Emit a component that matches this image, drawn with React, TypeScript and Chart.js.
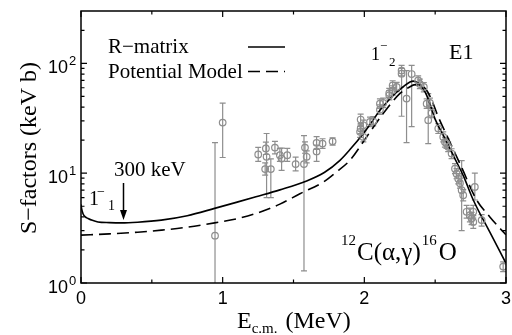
import React, { useEffect, useRef } from 'react';
import { Chart, registerables } from 'chart.js';

Chart.register(...registerables);

// R-matrix curve (solid)
const rMatrixX = [0, 0.005, 0.015, 0.03, 0.05, 0.08, 0.12, 0.2, 0.285, 0.4, 0.567, 0.75, 0.943, 1.108, 1.235, 1.404, 1.593, 1.72, 1.828, 1.9, 1.993, 2.05, 2.11, 2.17, 2.228, 2.28, 2.322, 2.345, 2.38, 2.428, 2.46, 2.498, 2.569, 2.639, 2.7, 2.769, 2.886, 3.0];
const rMatrixY = [5.2, 4.7, 4.25, 4.0, 3.87, 3.72, 3.6, 3.55, 3.53, 3.58, 3.74, 4.1, 4.78, 5.48, 6.1, 7.05, 8.5, 10.2, 13.1, 16.5, 23, 29, 37.4, 46, 54.8, 62, 67.6, 69, 66, 55, 44, 31.4, 20.7, 13.6, 9.4, 5.7, 2.9, 1.51];

// Potential model curve (dashed)
const potentialX = [0, 0.2, 0.4, 0.567, 0.75, 0.943, 1.108, 1.235, 1.4, 1.545, 1.71, 1.8, 1.898, 2.016, 2.133, 2.25, 2.31, 2.36, 2.4, 2.44, 2.48, 2.52, 2.59, 2.68, 2.793, 2.886, 2.969, 3.0];
const potentialY = [2.73, 2.8, 2.9, 3.03, 3.22, 3.53, 3.87, 4.3, 5.2, 6.5, 8.3, 10.2, 13.1, 21.4, 34.9, 53, 60, 64, 63, 57, 45, 33, 21, 11.8, 5.7, 4.0, 3.03, 2.75];

// Experimental data with error bars
const dataX = [0.946, 1.0, 1.251, 1.305, 1.31, 1.30, 1.34, 1.369, 1.404, 1.416, 1.456, 1.515, 1.574, 1.581, 1.593, 1.663, 1.663, 1.705, 1.776,
  1.974, 1.974, 1.97, 1.993, 1.993, 2.04, 2.063, 2.11, 2.11, 2.133, 2.176, 2.176, 2.2, 2.2, 2.228, 2.263, 2.263, 2.298, 2.334, 2.38, 2.392, 2.42, 2.44, 2.451, 2.463, 2.475,
  2.522, 2.557, 2.569, 2.58, 2.592, 2.616, 2.64, 2.651, 2.663, 2.675, 2.687, 2.698, 2.722, 2.745, 2.757, 2.769, 2.769, 2.78, 2.828, 2.98];
const dataY = [2.7, 28.9, 14.8, 16.8, 14.1, 10.9, 10.9, 17.1, 14.6, 13.6, 14.6, 12.1, 12.1, 17.1, 14.1, 18.9, 15.8, 18.6, 19.5,
  30.8, 25.5, 23.8, 27.3, 21.4, 29.3, 29.7, 37.9, 43, 43.6, 51.2, 53.7, 56.8, 63, 61, 80.6, 86, 47.8, 80, 70, 65, 61, 43, 30.4, 43.6, 35.4,
  25.5, 21.4, 19.2, 18.6, 17.4, 15.1, 11.0, 9.9, 8.9, 8.1, 7.0, 6.3, 4.45, 4.15, 3.87, 3.6, 4.45, 7.5, 3.74, 1.41];
const dataLow = [0.5, 13.9, 12.8, 14.8, 6.0, 9.6, 6.0, 15, 12.8, 10.6, 12.8, 10.5, 1.29, 15.2, 12.4, 16.5, 12.8, 16.8, 18,
  27.5, 23, 21.2, 24.5, 19.3, 26.5, 26.9, 34.3, 39, 39.5, 46.5, 48.7, 51.5, 57, 55.4, 33, 77, 19, 26.5, 63, 59, 55, 39, 18.6, 39.5, 32,
  23, 19.3, 17.3, 16.8, 15.7, 13.6, 9.9, 8.9, 8, 7.3, 3.0, 5.6, 3.9, 3.6, 3.4, 3.15, 3.9, 5.7, 3.3, 1.27];
const dataHigh = [19, 43.5, 17.2, 19.2, 23, 12.4, 13.5, 19.5, 16.8, 16.9, 16.8, 14, 22, 19.3, 16, 21.5, 18, 20.6, 21,
  34.5, 28.3, 26.7, 30.4, 23.8, 32.4, 32.8, 41.9, 47.5, 48.2, 56.4, 59.2, 62.6, 69.5, 67.3, 90, 96, 86, 96, 77, 72, 67, 47.5, 53, 48.2, 39,
  28.3, 23.8, 21.2, 20.6, 19.2, 16.7, 12.2, 11, 9.9, 9, 13, 7.1, 5.1, 4.8, 4.4, 4.1, 5.1, 10, 4.2, 1.56];

// Axis ticks
const xMajorTicks = [0, 1, 2, 3];
const xMinorTicks = [0.5, 1.5, 2.5];
const xTickLabels = ['0', '1', '2', '3'];
const yMajorTicks = [1, 10, 100];
const yMinorTicks = [2, 3, 4, 5, 6, 7, 8, 9, 20, 30, 40, 50, 60, 70, 80, 90, 200];
const yTickBase = '10';
const yTickExponents = ['0', '1', '2'];

const SERIF = '"Liberation Serif", "Times New Roman", serif';
const SANS = '"Liberation Sans", Arial, sans-serif';
const GRAY = '#8e8e8e';

function txt(ctx: CanvasRenderingContext2D, s: string, x: number, y: number, size: number, fam: string, align: CanvasTextAlign = 'left') {
  ctx.font = `${size}px ${fam}`;
  ctx.textAlign = align;
  ctx.textBaseline = 'alphabetic';
  ctx.fillText(s, x, y);
  return ctx.measureText(s).width;
}

const decorPlugin = {
  id: 'decor',
  beforeDatasetsDraw(chart: any) {
    const { ctx, chartArea: a, scales } = chart;
    const xs = scales.x, ys = scales.y;
    ctx.save();
    ctx.beginPath();
    ctx.rect(a.left, a.top, a.right - a.left, a.bottom - a.top);
    ctx.clip();
    ctx.strokeStyle = GRAY;
    ctx.lineWidth = 1.2;
    for (let i = 0; i < dataX.length; i++) {
      const px = xs.getPixelForValue(dataX[i]);
      const yl = ys.getPixelForValue(dataLow[i]);
      const yh = ys.getPixelForValue(dataHigh[i]);
      ctx.beginPath();
      ctx.moveTo(px, yl); ctx.lineTo(px, yh);
      ctx.moveTo(px - 3, yl); ctx.lineTo(px + 3, yl);
      ctx.moveTo(px - 3, yh); ctx.lineTo(px + 3, yh);
      ctx.stroke();
    }
    ctx.restore();
  },
  afterDatasetsDraw(chart: any) {
    const { ctx, chartArea: a, scales } = chart;
    const xs = scales.x, ys = scales.y;
    ctx.save();
    ctx.strokeStyle = '#000';
    ctx.fillStyle = '#000';
    ctx.lineWidth = 1.5;
    ctx.strokeRect(a.left, a.top, a.right - a.left, a.bottom - a.top);
    ctx.lineWidth = 1.2;
    ctx.beginPath();
    const xt = (v: number, len: number) => {
      const p = xs.getPixelForValue(v);
      ctx.moveTo(p, a.bottom); ctx.lineTo(p, a.bottom - len);
      ctx.moveTo(p, a.top); ctx.lineTo(p, a.top + len);
    };
    const yt = (v: number, len: number) => {
      const p = ys.getPixelForValue(v);
      ctx.moveTo(a.left, p); ctx.lineTo(a.left + len, p);
      ctx.moveTo(a.right, p); ctx.lineTo(a.right - len, p);
    };
    xMajorTicks.forEach(v => xt(v, 6));
    xMinorTicks.forEach(v => xt(v, 3.5));
    yMajorTicks.forEach(v => yt(v, 6));
    yMinorTicks.forEach(v => yt(v, 3.5));
    ctx.stroke();

    // tick labels
    xMajorTicks.forEach((v, i) => {
      txt(ctx, xTickLabels[i], xs.getPixelForValue(v), a.bottom + 21, 18, SANS, 'center');
    });
    yMajorTicks.forEach((v, i) => {
      const p = ys.getPixelForValue(v);
      txt(ctx, yTickBase, 68, p + 9.5, 18, SANS, 'right');
      txt(ctx, yTickExponents[i], 69, p + 2, 13, SANS, 'left');
    });

    // axis titles
    ctx.save();
    ctx.translate(30, 148);
    ctx.rotate(-Math.PI / 2);
    ctx.font = `24px ${SERIF}`;
    ctx.textAlign = 'center';
    ctx.textBaseline = 'middle';
    ctx.fillText('S\u2212factors (keV b)', 0, 0);
    ctx.restore();

    let cx = 237;
    cx += txt(ctx, 'E', cx, 328, 24, SERIF);
    cx += txt(ctx, 'c.m.', cx, 333, 15, SERIF);
    txt(ctx, ' (MeV)', cx + 2, 328, 24, SERIF);

    // legend
    txt(ctx, 'R\u2212matrix', 108, 53, 21, SERIF);
    txt(ctx, 'Potential Model', 108, 78, 21, SERIF);
    ctx.lineWidth = 1.5;
    ctx.beginPath();
    ctx.moveTo(248, 47); ctx.lineTo(285, 47);
    ctx.stroke();
    ctx.setLineDash([12, 6]);
    ctx.beginPath();
    ctx.moveTo(248, 71.5); ctx.lineTo(285, 71.5);
    ctx.stroke();
    ctx.setLineDash([]);

    // annotations
    txt(ctx, 'E1', 449, 59, 22, SERIF);
    txt(ctx, '1', 371, 60, 18, SERIF);
    txt(ctx, '\u2212', 380, 50, 13, SERIF);
    txt(ctx, '2', 389, 66, 13, SERIF);

    txt(ctx, '1', 89, 205, 20, SERIF);
    txt(ctx, '\u2212', 97, 196, 14, SERIF);
    txt(ctx, '1', 108, 210, 14, SERIF);

    txt(ctx, '300 keV', 114, 176, 21, SERIF);
    const ax = xs.getPixelForValue(0.3);
    ctx.lineWidth = 1.5;
    ctx.beginPath();
    ctx.moveTo(ax, 183); ctx.lineTo(ax, 212);
    ctx.stroke();
    ctx.beginPath();
    ctx.moveTo(ax - 3.5, 210); ctx.lineTo(ax + 3.5, 210); ctx.lineTo(ax, 220); ctx.closePath();
    ctx.fill();

    let rx = 341;
    rx += txt(ctx, '12', rx, 245, 15, SERIF);
    rx += 1;
    rx += txt(ctx, 'C(\u03b1,\u03b3)', rx, 260, 25, SERIF);
    rx += 1;
    rx += txt(ctx, '16', rx, 245, 15, SERIF);
    rx += 2;
    txt(ctx, 'O', rx, 260, 25, SERIF);

    ctx.restore();
  },
};

export default function App() {
  const ref = useRef<HTMLCanvasElement | null>(null);
  useEffect(() => {
    if (!ref.current) return;
    const chart = new Chart(ref.current, {
      type: 'scatter',
      data: {
        datasets: [
          {
            label: 'data',
            data: dataX.map((x, i) => ({ x, y: dataY[i] })),
            showLine: false,
            pointStyle: 'circle',
            pointRadius: 3.3,
            pointBorderWidth: 1.2,
            pointBorderColor: GRAY,
            pointBackgroundColor: 'rgba(0,0,0,0)',
            borderColor: GRAY,
            backgroundColor: 'rgba(0,0,0,0)',
          },
          {
            label: 'R-matrix',
            data: rMatrixX.map((x, i) => ({ x, y: rMatrixY[i] })),
            showLine: true,
            pointRadius: 0,
            borderColor: '#000',
            borderWidth: 1.6,
            cubicInterpolationMode: 'monotone',
            fill: false,
          },
          {
            label: 'Potential Model',
            data: potentialX.map((x, i) => ({ x, y: potentialY[i] })),
            showLine: true,
            pointRadius: 0,
            borderColor: '#000',
            borderWidth: 1.6,
            borderDash: [12, 6],
            cubicInterpolationMode: 'monotone',
            fill: false,
          },
        ] as any,
      },
      options: {
        animation: false,
        responsive: false,
        layout: { padding: { top: 11, right: 6, left: 0, bottom: 0 } },
        plugins: { legend: { display: false }, tooltip: { enabled: false } },
        scales: {
          x: {
            type: 'linear',
            min: 0,
            max: 3,
            grid: { display: false },
            border: { display: false },
            ticks: { display: false },
            afterFit: (s: any) => { s.height = 52; },
          },
          y: {
            type: 'logarithmic',
            min: 1,
            max: 300,
            grid: { display: false },
            border: { display: false },
            ticks: { display: false },
            afterFit: (s: any) => { s.width = 81; },
          },
        },
      } as any,
      plugins: [decorPlugin],
    });
    return () => chart.destroy();
  }, []);
  return (
    <div style={{ position: 'fixed', left: 0, top: 0, width: 512, height: 335, background: '#fff' }}>
      <canvas ref={ref} width={512} height={335} style={{ display: 'block' }} />
    </div>
  );
}
